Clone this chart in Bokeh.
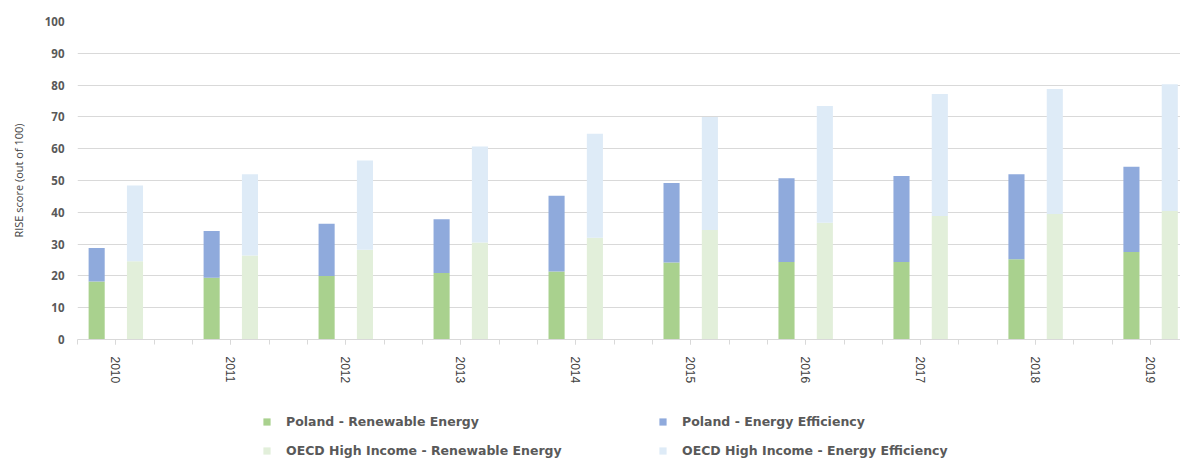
from bokeh.plotting import figure
from bokeh.layouts import column
from bokeh.models import ColumnDataSource, Range1d, FixedTicker, Legend, LegendItem
from bokeh.embed import file_html
from bokeh.resources import INLINE

# ---- data ----
years = ["2010", "2011", "2012", "2013", "2014", "2015", "2016", "2017", "2018", "2019"]
poland_re = [18.2, 19.4, 20.0, 20.9, 21.4, 24.2, 24.4, 24.4, 25.2, 27.5]
poland_ee = [10.6, 14.7, 16.4, 16.9, 23.8, 25.0, 26.3, 27.0, 26.8, 26.8]
oecd_re = [24.6, 26.4, 28.2, 30.5, 32.0, 34.4, 36.7, 38.8, 39.5, 40.4]
oecd_ee = [23.8, 25.6, 28.1, 30.2, 32.7, 35.6, 36.7, 38.4, 39.3, 39.9]
y_ticks = [0, 10, 20, 30, 40, 50, 60, 70, 80, 90, 100]

series_names = [
    "Poland - Renewable Energy",
    "Poland - Energy Efficiency",
    "OECD High Income - Renewable Energy",
    "OECD High Income - Energy Efficiency",
]
colors = ["#a9d18e", "#8faadc", "#e2efda", "#deebf7"]

# each year occupies 3 slots: Poland, OECD, gap
group_start = [3 * i for i in range(len(years))]
src = ColumnDataSource(dict(
    x_pol=[g + 0.5 for g in group_start],
    x_oecd=[g + 1.5 for g in group_start],
    pol_re=poland_re, pol_ee=poland_ee,
    oecd_re=oecd_re, oecd_ee=oecd_ee,
))

W = 1180
MAIN_H = 395
LEG_H = 65
X_MAX = 28.78

p = figure(width=W, height=MAIN_H, output_backend="svg", toolbar_location=None,
           x_range=Range1d(0, X_MAX), y_range=Range1d(0, 100),
           min_border_left=77, min_border_right=0, min_border_top=21,
           min_border_bottom=MAIN_H - 339)
p.outline_line_color = None
p.background_fill_color = "white"

bw = 0.42
r_pol = p.vbar_stack(["pol_re", "pol_ee"], x="x_pol", width=bw, source=src,
                     color=colors[0:2], line_width=0)
r_oecd = p.vbar_stack(["oecd_re", "oecd_ee"], x="x_oecd", width=bw, source=src,
                      color=colors[2:4], line_width=0)

# grid
p.xgrid.grid_line_color = None
p.ygrid.grid_line_color = "#d9d9d9"
p.ygrid.grid_line_width = 1
p.ygrid.ticker = FixedTicker(ticks=y_ticks)

# y axis
p.yaxis.ticker = FixedTicker(ticks=y_ticks)
p.yaxis.axis_line_color = None
p.yaxis.major_tick_line_color = None
p.yaxis.minor_tick_line_color = None
p.yaxis.major_tick_out = 0
p.yaxis.major_tick_in = 0
p.yaxis.major_label_standoff = 13
p.yaxis.major_label_text_font = "Open Sans"
p.yaxis.major_label_text_font_style = "bold"
p.yaxis.major_label_text_font_size = "11.5px"
p.yaxis.major_label_text_color = "#595959"
p.yaxis.axis_label = "RISE score (out of 100)"
p.yaxis.axis_label_text_font = "Open Sans"
p.yaxis.axis_label_text_font_style = "normal"
p.yaxis.axis_label_text_font_size = "11px"
p.yaxis.axis_label_text_color = "#404040"
p.yaxis.axis_label_standoff = 16

# x axis
label_pos = [g + 1 for g in group_start]
p.xaxis.ticker = FixedTicker(ticks=label_pos, minor_ticks=list(range(0, 30)))
p.xaxis.major_label_overrides = {pos: y for pos, y in zip(label_pos, years)}
p.xaxis.major_label_orientation = "vertical"
p.xaxis.axis_line_color = "#d9d9d9"
p.xaxis.major_tick_line_color = "#d9d9d9"
p.xaxis.minor_tick_line_color = "#d9d9d9"
p.xaxis.major_tick_out = 5
p.xaxis.minor_tick_out = 5
p.xaxis.major_tick_in = 0
p.xaxis.minor_tick_in = 0
p.xaxis.major_label_standoff = 12
p.xaxis.major_label_text_font = "Liberation Sans"
p.xaxis.major_label_text_font_size = "12px"
p.xaxis.major_label_text_color = "#404040"

# ---- legend strip (separate figure under the chart; its frame aligns with the chart's) ----
lp = figure(width=W, height=LEG_H, output_backend="svg", toolbar_location=None,
            x_range=Range1d(0, X_MAX), y_range=Range1d(1000, 1001),
            x_axis_type=None, y_axis_type=None,
            min_border_left=0, min_border_right=0, min_border_top=0, min_border_bottom=0)
lp.outline_line_color = None
lp.xgrid.visible = False
lp.ygrid.visible = False
# swatch renderers share the chart data but lie far below this strip's visible range
sw_pol = lp.vbar_stack(["pol_re", "pol_ee"], x="x_pol", width=bw, source=src,
                       color=colors[0:2], line_width=0)
sw_oecd = lp.vbar_stack(["oecd_re", "oecd_ee"], x="x_oecd", width=bw, source=src,
                        color=colors[2:4], line_width=0)

def make_legend(items, x):
    return Legend(items=items, location=(x, 2), orientation="vertical",
                  glyph_width=9, glyph_height=9, label_standoff=15,
                  label_height=13, spacing=14, padding=0, margin=0,
                  border_line_color=None, background_fill_alpha=0,
                  label_text_font="DejaVu Sans", label_text_font_style="bold",
                  label_text_font_size="12.5px", label_text_color="#595959")

leg1 = make_legend([LegendItem(label=series_names[0], renderers=[sw_pol[0]]),
                    LegendItem(label=series_names[2], renderers=[sw_oecd[0]])], 185)
leg2 = make_legend([LegendItem(label=series_names[1], renderers=[sw_pol[1]]),
                    LegendItem(label=series_names[3], renderers=[sw_oecd[1]])], 581)
lp.add_layout(leg1)
lp.add_layout(leg2)

layout = column(p, lp)
open("out.html", "w").write(file_html(layout, INLINE))
